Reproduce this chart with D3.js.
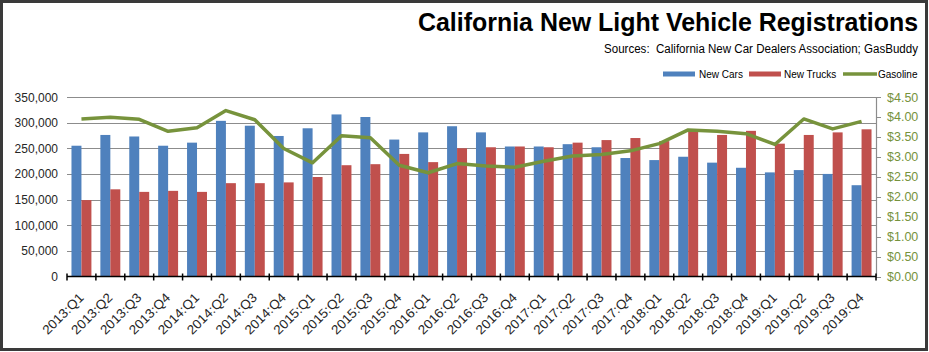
<!DOCTYPE html>
<html><head><meta charset="utf-8">
<script src="https://cdn.jsdelivr.net/npm/d3@7"></script>
<style>body{margin:0;background:#fff}svg{display:block}text{font-family:"Liberation Sans",Arial,sans-serif;white-space:pre}</style>
</head><body><svg id="c" width="929" height="352"></svg>
<script>
const categories = ["2013:Q1","2013:Q2","2013:Q3","2013:Q4","2014:Q1","2014:Q2","2014:Q3","2014:Q4","2015:Q1","2015:Q2","2015:Q3","2015:Q4","2016:Q1","2016:Q2","2016:Q3","2016:Q4","2017:Q1","2017:Q2","2017:Q3","2017:Q4","2018:Q1","2018:Q2","2018:Q3","2018:Q4","2019:Q1","2019:Q2","2019:Q3","2019:Q4"];
const newCars = [255000,276000,273000,255000,261000,303500,294000,274000,289000,316000,311000,267000,281000,293000,281000,253500,253500,258000,252000,231000,227000,233500,222000,212000,203000,207500,200000,178000];
const newTrucks = [149000,170000,165000,167000,165000,182000,182000,183500,194000,217000,219000,239000,223000,250000,252000,253500,252000,261000,266000,270000,264000,283000,276000,284000,259000,276000,281000,287000];
const gasoline = [3.95,3.99,3.94,3.64,3.73,4.16,3.93,3.21,2.85,3.53,3.48,2.79,2.60,2.83,2.77,2.74,2.89,3.02,3.06,3.15,3.33,3.675,3.64,3.58,3.31,3.95,3.70,3.89];
const leftTicks = [0,50000,100000,150000,200000,250000,300000,350000];
const rightTicks = [0,0.5,1,1.5,2,2.5,3,3.5,4,4.5];
const seriesNames = ["New Cars","New Trucks","Gasoline"];
const colors = {cars:"#4F81BD", trucks:"#C0504D", gas:"#77933C"};

const svg = d3.select("#c");
const L = 67, R = 876, T = 97, B = 276.5;
const x = d3.scaleBand().domain(categories).range([L,R]).paddingInner(0.31).paddingOuter(0.155);
const xs = d3.scaleBand().domain(["cars","trucks"]).range([0,x.bandwidth()]);
const y = d3.scaleLinear().domain([0,350000]).range([B,T]);
const y2 = d3.scaleLinear().domain([0,4.5]).range([B,T]);
const xc = d3.scalePoint().domain(categories).range([L,R]).padding(0.5);

// border
svg.append("rect").attr("x",1.5).attr("y",1.5).attr("width",925).attr("height",348).attr("fill","#fff").attr("stroke","#3a3a3a").attr("stroke-width",3);

// title
svg.append("text").attr("x",918).attr("y",31).attr("text-anchor","end").attr("font-size",25).attr("font-weight","bold")
  .attr("textLength",500).attr("lengthAdjust","spacingAndGlyphs").text("California New Light Vehicle Registrations");
svg.append("text").attr("x",918).attr("y",53).attr("text-anchor","end").attr("font-size",12)
  .attr("textLength",314).attr("lengthAdjust","spacingAndGlyphs").text("Sources:  California New Car Dealers Association; GasBuddy");

// gridlines
svg.append("g").selectAll("line").data(leftTicks.slice(1)).join("line")
  .attr("x1",L).attr("x2",R).attr("y1",d=>Math.round(y(d))+0.5).attr("y2",d=>Math.round(y(d))+0.5)
  .attr("stroke","#8c8c8c").attr("stroke-width",1.2);

// bars
const g = svg.append("g");
g.selectAll(".car").data(categories).join("rect").attr("x",(d)=>x(d)+xs("cars")).attr("width",xs.bandwidth())
  .attr("y",(d,i)=>y(newCars[i])).attr("height",(d,i)=>B-y(newCars[i])).attr("fill",colors.cars);
g.selectAll(".truck").data(categories).join("rect").attr("x",(d)=>x(d)+xs("trucks")).attr("width",xs.bandwidth())
  .attr("y",(d,i)=>y(newTrucks[i])).attr("height",(d,i)=>B-y(newTrucks[i])).attr("fill",colors.trucks);

// line
svg.append("path").datum(gasoline).attr("fill","none").attr("stroke",colors.gas).attr("stroke-width",3.5).attr("stroke-linejoin","round")
  .attr("d",d3.line().x((d,i)=>xc(categories[i])).y(d=>y2(d)));

// left axis labels
svg.append("g").selectAll("text").data(leftTicks).join("text").attr("x",58).attr("y",d=>y(d)+4.5).attr("text-anchor","end")
  .attr("font-size",12).attr("fill","#262626").text(d=>d3.format(",")(d));

// right axis
svg.append("line").attr("x1",R+0.5).attr("x2",R+0.5).attr("y1",T).attr("y2",B).attr("stroke","#8c8c8c").attr("stroke-width",1.2);
svg.append("g").selectAll("line").data(rightTicks).join("line").attr("x1",R).attr("x2",R+5).attr("y1",d=>Math.round(y2(d))+0.5).attr("y2",d=>Math.round(y2(d))+0.5).attr("stroke","#8c8c8c");
svg.append("g").selectAll("text").data(rightTicks).join("text").attr("x",887).attr("y",d=>y2(d)+4.5).attr("text-anchor","start")
  .attr("font-size",12.5).attr("fill","#76923C").text(d=>"$"+d.toFixed(2));

// bottom axis
svg.append("line").attr("x1",L).attr("x2",R).attr("y1",B).attr("y2",B).attr("stroke","#000").attr("stroke-width",1.5);
const tickXs = categories.map(c=>x(c)-x.step()*x.paddingInner()/2);
tickXs.push(R);
svg.append("g").selectAll("line").data(tickXs).join("line").attr("x1",d=>d).attr("x2",d=>d).attr("y1",B-3).attr("y2",B+4).attr("stroke","#000").attr("stroke-width",1.5);
svg.append("g").selectAll("text").data(categories).join("text")
  .attr("transform",d=>`translate(${xc(d)+3},${B+22}) rotate(-45)`).attr("text-anchor","end").attr("font-size",13)
  .attr("textLength",52).attr("lengthAdjust","spacingAndGlyphs").attr("fill","#262626").text(d=>d);

// legend
const lg = svg.append("g");
lg.append("rect").attr("x",663).attr("y",71.5).attr("width",32).attr("height",5).attr("fill",colors.cars);
lg.append("text").attr("x",699).attr("y",77.5).attr("font-size",10).text(seriesNames[0]);
lg.append("rect").attr("x",749).attr("y",71.5).attr("width",32).attr("height",5).attr("fill",colors.trucks);
lg.append("text").attr("x",784).attr("y",77.5).attr("font-size",10).text(seriesNames[1]);
lg.append("line").attr("x1",843).attr("x2",877).attr("y1",74).attr("y2",74).attr("stroke",colors.gas).attr("stroke-width",3.5);
lg.append("text").attr("x",878).attr("y",77.5).attr("font-size",10).text(seriesNames[2]);
</script></body></html>
